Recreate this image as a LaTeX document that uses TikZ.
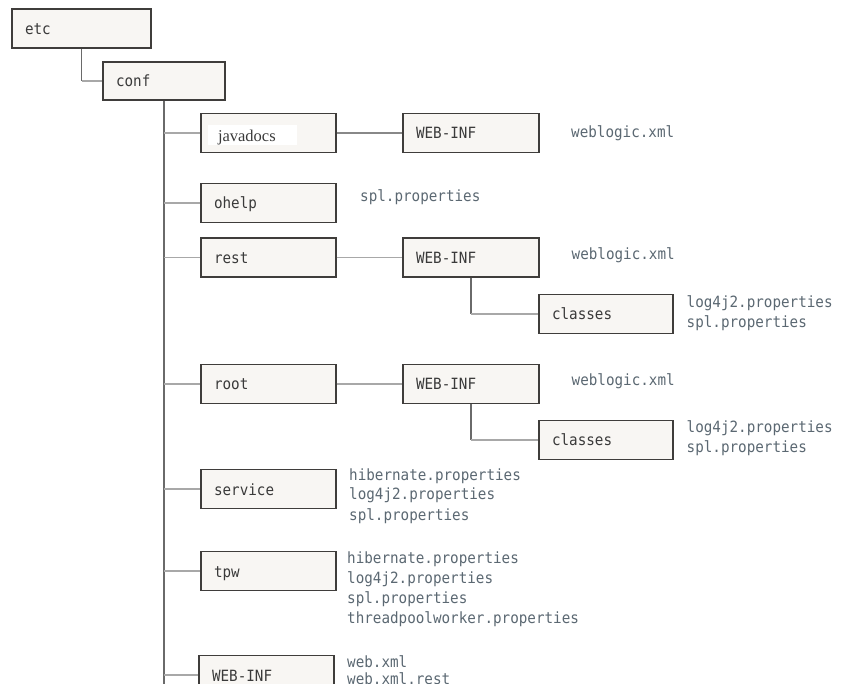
\documentclass[tikz,border=0pt]{standalone}
\usepackage{fontspec}
\usepackage{tikz}
\usetikzlibrary{calc}
\newfontfamily\dirfont[FakeStretch=0.92]{DejaVu Sans Mono}
\newfontfamily\docfont{Liberation Serif}
\definecolor{boxfill}{HTML}{F8F6F3}
\definecolor{boxline}{HTML}{3F3D3B}
\definecolor{dirtext}{HTML}{3A3A3A}
\definecolor{filetext}{HTML}{5B6872}
\definecolor{trunkgray}{HTML}{6A6A6A}
\definecolor{branchgray}{HTML}{A8A8A8}

\tikzset{
  dir/.style={draw=boxline, fill=boxfill, line width=1.2pt,
    minimum height=39pt, text width=#1-26pt, inner xsep=13pt, inner ysep=0pt,
    align=left, text height=12pt, text depth=0pt,
    font=\dirfont\fontsize{15.5}{18}\selectfont, text=dirtext},
  dir/.default=135pt,
  files/.style={anchor=base west, inner sep=0pt, align=left,
    font=\dirfont\fontsize{15.5}{20}\selectfont, text=filetext},
  trunk/.style={draw=trunkgray, line width=1.2pt},
  branch/.style={draw=branchgray, line width=1.2pt}
}

\begin{document}
\begin{tikzpicture}[x=1pt,y=-1pt]
\fill[white] (0,0) rectangle (841,692);
\useasboundingbox (0,0) rectangle (841,692);
\clip (0,0) rectangle (841,683);

\node[dir=139pt] (etc) at (81.5,28.5) {etc};
\node[dir=122pt, minimum height=38pt] (conf) at (164,81) {conf};

\node[dir] (javadocs) at (268.5,133) {\docfont\fontsize{16.5}{18}\selectfont
  \setlength{\fboxsep}{0pt}\hspace*{-6pt}\raisebox{-2.7pt}{\colorbox{white}{%
  \makebox[89pt][l]{\hspace{10pt}\rule[-3.3pt]{0pt}{20pt}javadocs}}}};
\foreach \name/\y in {ohelp/203, rest/257.5, root/384, service/489, tpw/571}
    \node[dir] (\name) at (268.5,\y) {\name};
\node[dir] (webinf) at (266.5,675) {WEB-INF};

\node[dir=136pt] (jdwebinf)   at (471,133)   {WEB-INF};
\node[dir=136pt] (restwebinf) at (471,257.5) {WEB-INF};
\node[dir=136pt] (rootwebinf) at (471,384)   {WEB-INF};
\node[dir=134pt] (restclasses) at (606,314) {classes};
\node[dir=134pt] (rootclasses) at (606,440) {classes};

\coordinate (trunkend) at (164,700);

\draw[trunk] (etc.south) -- (etc.south |- conf.west);
\draw[branch] (etc.south |- conf.west) -- (conf.west);
\draw[trunk] (conf.south) -- (trunkend);
\foreach \n in {javadocs,ohelp,rest,root,service,tpw,webinf}
    \draw[branch] (conf.south |- \n.west) -- (\n.west);

\draw[branch, draw=trunkgray!80] (javadocs.east) -- (jdwebinf.west);
\draw[branch] (rest.east) -- (restwebinf.west);
\draw[branch] (root.east) -- (rootwebinf.west);

\draw[trunk] (restwebinf.south) -- (restwebinf.south |- restclasses.west);
\draw[branch] (restwebinf.south |- restclasses.west) -- (restclasses.west);
\draw[trunk] (rootwebinf.south) -- (rootwebinf.south |- rootclasses.west);
\draw[branch] (rootwebinf.south |- rootclasses.west) -- (rootclasses.west);

% base west sits on the last line
\node[files] (jdfiles)     at (571,137.5) {weblogic.xml};
\node[files] (ohelpfiles)  at (360,202)   {spl.properties};
\node[files] (restfiles)   at (571.5,260) {weblogic.xml};
\node[files] (restclfiles) at (686.5,328) {log4j2.properties\\spl.properties};
\node[files] (rootfiles)   at (571.5,386) {weblogic.xml};
\node[files] (rootclfiles) at (686.5,453) {log4j2.properties\\spl.properties};
\node[files] (servicefiles) at (349,520)
    {hibernate.properties\\log4j2.properties\\spl.properties};
\node[files] (tpwfiles) at (347,623)
    {hibernate.properties\\log4j2.properties\\spl.properties\\threadpoolworker.properties};
\node[files, font=\dirfont\fontsize{15.5}{17}\selectfont] (webfiles) at (347,684)
    {web.xml\\web.xml.rest};
\end{tikzpicture}
\end{document}
